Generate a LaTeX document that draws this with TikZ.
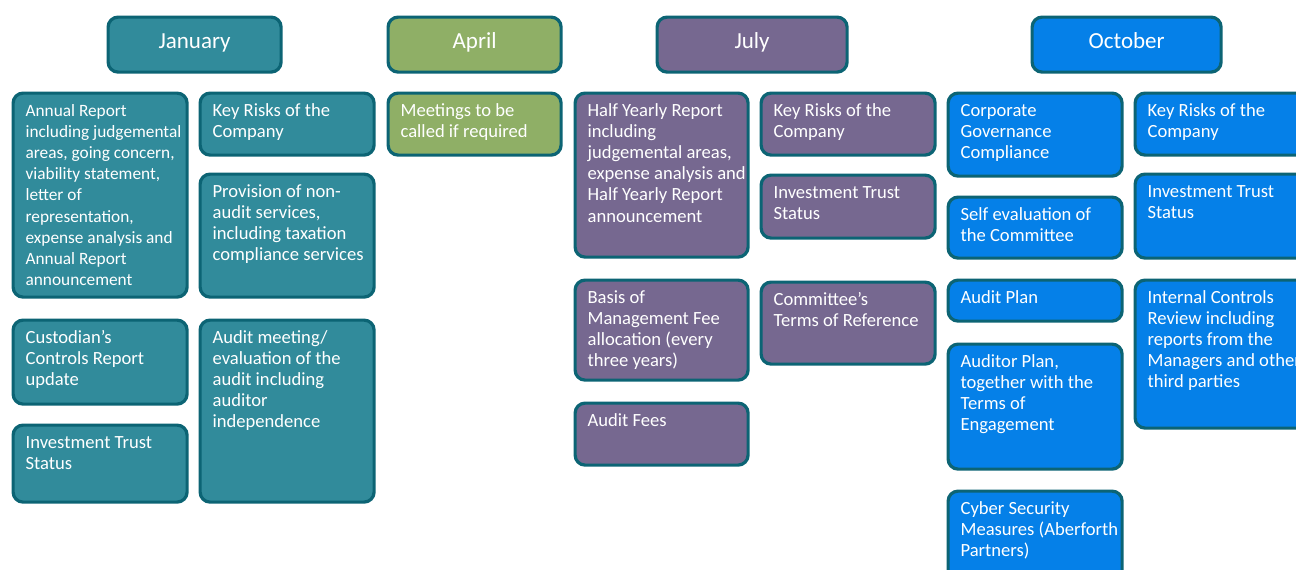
\documentclass[tikz,border=0pt]{standalone}
\usepackage{fontspec}
\setmainfont{Carlito}
\definecolor{bordc}{HTML}{0C6474}
\definecolor{janc}{HTML}{318B9B}
\definecolor{aprc}{HTML}{8FAF66}
\definecolor{julc}{HTML}{766890}
\definecolor{octc}{HTML}{0580E8}
\newcommand\bodyfont{\fontsize{18.6}{21.2}\selectfont}
\newcommand\smallbody{\fontsize{17.3}{21.2}\selectfont}
\newcommand\hdrfont{\fontsize{23}{27}\selectfont}
\tikzset{
  cbox/.style={draw=bordc, line width=3.2pt, rounded corners=10pt, inner sep=0pt, anchor=north west, text=white, font=\bodyfont},
  hbox/.style={cbox, font=\hdrfont, align=center, text height=14pt, text depth=6pt},
  jan/.style={fill=janc}, apr/.style={fill=aprc}, jul/.style={fill=julc}, oct/.style={fill=octc}
}
% name, colour style, x, y, w, h, text
\newcommand\Cbox[7]{%
  \node[cbox, #2, minimum width=#5pt-3pt, minimum height=#6pt-3pt] (#1) at (#3+1.5, -#4-1.5)
    {\parbox[c][\dimexpr#6pt-3pt\relax][t]{\dimexpr#5pt-3pt\relax}{\raggedright\leftskip=12.5pt\rightskip=-40pt plus 1fil\rule{0pt}{23pt}#7}};}
\begin{document}
\begin{tikzpicture}[x=1pt, y=1pt]
\useasboundingbox (0,0) rectangle (1296,-570);
\clip (0,0) rectangle (1296,-570);
% headers
\node[hbox, jan, minimum width=173pt, minimum height=55pt] (hjan) at (106.5,-15.5) {January};
\node[hbox, apr, minimum width=173pt, minimum height=55pt] (hapr) at (386.5,-15.5) {April};
\node[hbox, jul, minimum width=190pt, minimum height=55pt] (hjul) at (655.5,-15.5) {July};
\node[hbox, oct, minimum width=189pt, minimum height=55pt] (hoct) at (1030.5,-15.5) {October};
% January
\Cbox{ja1}{jan}{10}{90}{177}{207}{\smallbody Annual Report\\including judgemental\\areas, going concern,\\viability statement,\\letter of\\representation,\\expense analysis and\\Annual Report\\announcement}
\Cbox{ja2}{jan}{10}{317}{177}{87}{Custodian’s\\Controls Report\\update}
\Cbox{ja3}{jan}{10}{422}{177}{80}{Investment Trust\\Status}
\Cbox{jb1}{jan}{197}{90}{177}{65}{Key Risks of the\\Company}
\Cbox{jb2}{jan}{197}{171}{177}{126}{Provision of non-\\audit services,\\including taxation\\compliance services}
\Cbox{jb3}{jan}{197}{317}{177}{185}{Audit meeting/\\evaluation of the\\audit including\\auditor\\independence}
% April
\Cbox{aa1}{apr}{385}{90}{176}{65}{Meetings to be\\called if required}
% July
\Cbox{ua1}{jul}{572}{90}{176}{167}{Half Yearly Report\\including\\judgemental areas,\\expense analysis and\\Half Yearly Report\\announcement}
\Cbox{ua2}{jul}{572}{277}{176}{103}{Basis of\\Management Fee\\allocation (every\\three years)}
\Cbox{ua3}{jul}{572}{400}{176}{65}{Audit Fees}
\Cbox{ub1}{jul}{758}{90}{177}{65}{Key Risks of the\\Company}
\Cbox{ub2}{jul}{758}{172}{177}{66}{Investment Trust\\Status}
\Cbox{ub3}{jul}{758}{279}{177}{85}{Committee’s\\Terms of Reference}
% October
\Cbox{oa1}{oct}{945}{90}{177}{86}{Corporate\\Governance\\Compliance}
\Cbox{oa2}{oct}{945}{194}{177}{64}{Self evaluation of\\the Committee}
\Cbox{oa3}{oct}{945}{277}{177}{44}{Audit Plan}
\Cbox{oa4}{oct}{945}{341}{177}{128}{Auditor Plan,\\together with the\\Terms of\\Engagement}
\Cbox{oa5}{oct}{945}{488}{177}{92}{Cyber Security\\Measures (Aberforth\\Partners)}
\Cbox{ob1}{oct}{1132}{90}{178}{65}{Key Risks of the\\Company}
\Cbox{ob2}{oct}{1132}{171}{178}{87}{Investment Trust\\Status}
\Cbox{ob3}{oct}{1132}{277}{178}{151}{Internal Controls\\Review including\\reports from the\\Managers and other\\third parties}
\end{tikzpicture}
\end{document}
